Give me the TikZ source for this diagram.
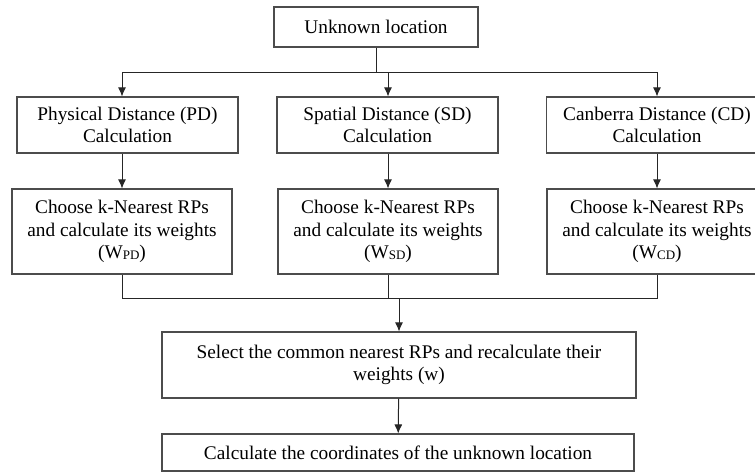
\documentclass[tikz,border=0pt]{standalone}
\usepackage{fontspec}
\setmainfont{Liberation Serif}
\usepackage{tikz}
\usetikzlibrary{arrows.meta}

\newcommand{\wsub}[1]{W{\fontsize{13}{13}\selectfont\raisebox{-1pt}{#1}}}

\tikzset{
    stepbox/.style={draw=black!70, line width=1.1pt, rectangle, align=center, inner sep=2pt},
    link/.style={line width=1pt, draw=black!85},
}

\begin{document}
\begin{tikzpicture}[x=1pt, y=-1pt, >={Latex[length=9pt,width=8pt]},
    font=\fontsize{19.3}{22.5}\selectfont]
    \useasboundingbox (0,0) rectangle (755,472);

    % Start
    \node[stepbox, minimum width=204pt, minimum height=40pt] (unknown) at (376, 27) {Unknown location};

    % Distance calculations
    \node[stepbox, minimum width=221pt, minimum height=56pt] (pd) at (127.5, 125) {Physical Distance (PD)\\Calculation};
    \node[stepbox, minimum width=221pt, minimum height=56pt] (sd) at (387.5, 125) {Spatial Distance (SD)\\Calculation};
    \node[stepbox, minimum width=221pt, minimum height=56pt] (cd) at (657, 125) {Canberra Distance (CD)\\Calculation};

    % k nearest RPs
    \node[stepbox, minimum width=220pt, minimum height=85pt] (pdk) at (122, 231.5) {Choose k-Nearest RPs\\and calculate its weights\\(\wsub{PD})};
    \node[stepbox, minimum width=220pt, minimum height=85pt] (sdk) at (388, 231.5) {Choose k-Nearest RPs\\and calculate its weights\\(\wsub{SD})};
    \node[stepbox, minimum width=220pt, minimum height=85pt] (cdk) at (657, 231.5) {Choose k-Nearest RPs\\and calculate its weights\\(\wsub{CD})};

    % Common RPs and result
    \node[stepbox, minimum width=474pt, minimum height=66pt] (select) at (399, 365) {Select the common nearest RPs and recalculate their\\weights (w)};
    \node[stepbox, minimum width=472pt, minimum height=37pt] (final) at (398, 452.5) {Calculate the coordinates of the unknown location};

    % Split
    \draw[link] (unknown.south) -- ++(0,25) coordinate (fork);
    \draw[link, ->] (fork) -| (pdk.north |- pd.north);
    \draw[link, ->] (fork) -| (sdk.north |- sd.north);
    \draw[link, ->] (fork) -| (cd.north);

    \draw[link, ->] (pdk.north |- pd.south) -- (pdk.north);
    \draw[link, ->] (sdk.north |- sd.south) -- (sdk.north);
    \draw[link, ->] (cd.south) -- (cdk.north);

    % Merge
    \draw[link] (pdk.south) -- ++(0,24) coordinate (join) -| (cdk.south);
    \draw[link] (sdk.south) -- (sdk.south |- join);
    \draw[link, ->] (select.north |- join) -- (select.north);
    \draw[link, ->] (select) -- (final);
\end{tikzpicture}
\end{document}
